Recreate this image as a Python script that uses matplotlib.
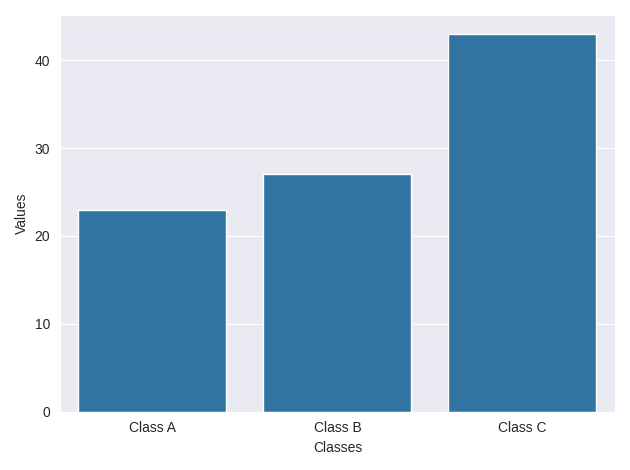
import matplotlib
matplotlib.use("Agg")
import matplotlib.pyplot as plt
import seaborn as sns

categories = ["Class A", "Class B", "Class C"]
values = [23, 27, 43]

sns.set_style("darkgrid")
plt.rcParams['font.family'] = ['Liberation Sans', 'DejaVu Sans']

fig, ax = plt.subplots(figsize=(6.3, 4.7), dpi=100)
sns.barplot(x=categories, y=values, color="#1f77b4", ax=ax)
ax.set_xlabel("Classes")
ax.set_ylabel("Values")
fig.tight_layout()
fig.savefig("out.png")
